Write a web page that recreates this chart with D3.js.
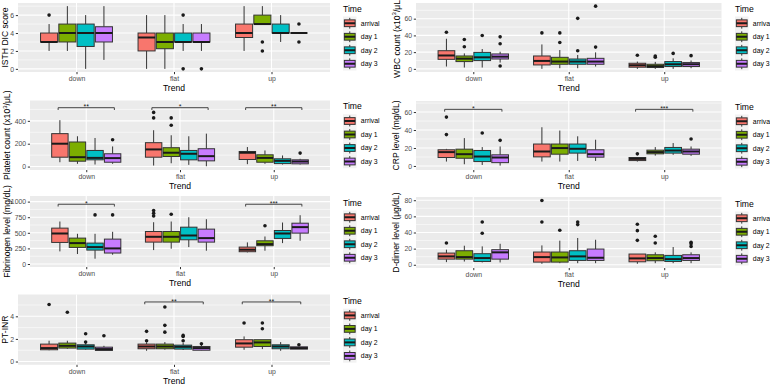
<!DOCTYPE html>
<html>
<head>
<meta charset="utf-8">
<script src="https://cdn.jsdelivr.net/npm/d3@7"></script>
<style>
  body { margin: 0; background: #fff; }
  svg { opacity: 0.999; }
  text { font-family: "Liberation Sans", Arial, sans-serif; }
</style>
</head>
<body>
<div id="grafico"></div>
<script>
// categorias
var trends = ["down", "flat", "up"];
var times = ["arrival", "day 1", "day 2", "day 3"];
var timeColors = ["#F8766D", "#7CAE00", "#00BFC4", "#C77CFF"];

// cajas: [trend, time, bigote inf, q1, mediana, q3, bigote sup]
var isthBoxes = [
  ["down", "arrival", 2, 3, 3, 4, 5], ["down", "day 1", 2, 3, 4, 5, 7],
  ["down", "day 2", 0, 2.5, 4, 5, 6], ["down", "day 3", 1, 3, 4, 4.7, 7],
  ["flat", "arrival", 0, 2, 3.5, 4, 6], ["flat", "day 1", 0, 2.25, 3, 4, 6],
  ["flat", "day 2", 2, 3, 3, 4, 5], ["flat", "day 3", 2, 3, 3, 4, 5],
  ["up", "arrival", 2, 3.5, 4, 5, 7], ["up", "day 1", 5, 5, 5, 6, 7],
  ["up", "day 2", 3, 4, 4, 5, 6], ["up", "day 3", 4, 4, 4, 4, 4]
];
var isthOutliers = [
  ["down", "arrival", 6], ["flat", "day 2", 6], ["flat", "day 2", 0], ["flat", "day 3", 0],
  ["up", "day 1", 3], ["up", "day 1", 2], ["up", "day 3", 5], ["up", "day 3", 3]
];
var isthTicks = [0, 2, 4, 6];
var isthSignif = [];

var wbcBoxes = [
  ["down", "arrival", 2.8, 11.4, 16, 21.7, 36], ["down", "day 1", 1.6, 8.7, 12.2, 15.4, 18.5],
  ["down", "day 2", 1.6, 9.9, 13.8, 19.7, 23.7], ["down", "day 3", 7.5, 11.8, 14.6, 17.8, 20.5],
  ["flat", "arrival", 0, 4.7, 9.5, 15.4, 29.2], ["flat", "day 1", 0.8, 5.5, 8.7, 13.8, 22.5],
  ["flat", "day 2", 0.8, 5.5, 8.7, 11.8, 16.6], ["flat", "day 3", 2.8, 5.5, 8.7, 12.6, 19.7],
  ["up", "arrival", 0, 2, 4.3, 6.7, 8.7], ["up", "day 1", 0, 1.6, 3.2, 5.5, 8.3],
  ["up", "day 2", 0, 2.8, 5.5, 8.7, 12.6], ["up", "day 3", 0.8, 2.8, 5.5, 7.5, 10]
];
var wbcOutliers = [
  ["down", "arrival", 43.8], ["down", "day 1", 35.1], ["down", "day 1", 26.4],
  ["down", "day 2", 39.9], ["down", "day 3", 38.3], ["down", "day 3", 30], ["down", "day 3", 3.5],
  ["flat", "arrival", 43], ["flat", "day 1", 43], ["flat", "day 1", 31.6],
  ["flat", "day 2", 21.7], ["flat", "day 2", 60.4], ["flat", "day 3", 26], ["flat", "day 3", 75],
  ["up", "arrival", 16.2], ["up", "day 1", 15.4], ["up", "day 1", 13.8],
  ["up", "day 2", 18.5], ["up", "day 3", 15.8]
];
var wbcTicks = [0, 20, 40, 60];
var wbcSignif = [];

var pltBoxes = [
  ["down", "arrival", 38, 82, 200, 288, 406], ["down", "day 1", 24, 47, 82, 215, 265],
  ["down", "day 2", 18, 59, 76, 141, 250], ["down", "day 3", 24, 38, 74, 112, 176],
  ["flat", "arrival", 9, 82, 150, 209, 318], ["flat", "day 1", 29, 88, 121, 165, 274],
  ["flat", "day 2", 15, 59, 112, 141, 265], ["flat", "day 3", 3, 50, 91, 156, 288],
  ["up", "arrival", 21, 62, 121, 132, 171], ["up", "day 1", 24, 38, 76, 103, 141],
  ["up", "day 2", 18, 26, 50, 68, 97], ["up", "day 3", 18, 24, 44, 59, 68]
];
var pltOutliers = [
  ["down", "day 3", 235], ["flat", "arrival", 474], ["flat", "arrival", 426],
  ["flat", "day 1", 426], ["flat", "day 1", 362], ["up", "day 3", 118]
];
var pltTicks = [0, 200, 400];
var pltSignif = [["down", 515, "**"], ["flat", 515, "*"], ["up", 515, "**"]];

var crpBoxes = [
  ["down", "arrival", 4.9, 9.4, 15.4, 18, 19], ["down", "day 1", 1.9, 8.6, 13.1, 18.7, 31],
  ["down", "day 2", 1.1, 4.9, 10.5, 17.2, 21], ["down", "day 3", 0.4, 3.7, 9.4, 12.4, 21.7],
  ["flat", "arrival", 4.9, 10.1, 16.1, 24.4, 43.1], ["flat", "day 1", 4.9, 13.1, 19.9, 24.4, 39.4],
  ["flat", "day 2", 5.6, 14.3, 19.1, 24.4, 33], ["flat", "day 3", 5.6, 9.8, 13.1, 18, 29.2],
  ["up", "arrival", 4.9, 6, 7.9, 9.4, 9.4], ["up", "day 1", 11.5, 13.5, 15.4, 17.6, 21],
  ["up", "day 2", 12.4, 14.3, 17.2, 20.6, 25.5], ["up", "day 3", 11.2, 13.1, 16.1, 18.7, 21.7]
];
var crpOutliers = [
  ["down", "arrival", 54.4], ["down", "arrival", 34.9], ["down", "day 2", 36.7],
  ["down", "day 3", 28.5], ["up", "arrival", 13.5], ["up", "day 3", 30]
];
var crpTicks = [0, 20, 40, 60];
var crpSignif = [["down", 63, "*"], ["up", 63, "***"]];

var fibBoxes = [
  ["down", "arrival", 202, 346, 489, 575, 681], ["down", "day 1", 160, 266, 335, 415, 484],
  ["down", "day 2", 85, 223, 271, 335, 484], ["down", "day 3", 149, 176, 250, 399, 516],
  ["flat", "arrival", 223, 351, 436, 521, 670], ["flat", "day 1", 245, 351, 436, 521, 681],
  ["flat", "day 2", 271, 388, 457, 590, 750], ["flat", "day 3", 213, 351, 415, 559, 718],
  ["up", "arrival", 186, 197, 229, 271, 346], ["up", "day 1", 213, 293, 319, 372, 441],
  ["up", "day 2", 335, 410, 489, 537, 665], ["up", "day 3", 372, 495, 591, 654, 782]
];
var fibOutliers = [
  ["down", "day 2", 787], ["down", "day 3", 787],
  ["flat", "arrival", 856], ["flat", "arrival", 814], ["flat", "arrival", 771],
  ["flat", "day 1", 798], ["up", "day 1", 612]
];
var fibTicks = [0, 250, 500, 750, 1000];
var fibSignif = [["down", 958, "*"], ["up", 958, "***"]];

var ddBoxes = [
  ["down", "arrival", 3.3, 7, 10.4, 14.5, 18.7], ["down", "day 1", 4, 7, 9.5, 17.4, 23.6],
  ["down", "day 2", 2.9, 4.1, 8.3, 13.7, 22.8], ["down", "day 3", 2.9, 7, 15.4, 18.7, 26],
  ["flat", "arrival", 1.2, 3.3, 9.5, 15.8, 24], ["flat", "day 1", 2, 3.3, 9.1, 15.8, 29.9],
  ["flat", "day 2", 2, 5.4, 10.4, 17.4, 33.2], ["flat", "day 3", 2, 5.4, 8.7, 19.5, 31],
  ["up", "arrival", 1.2, 3.7, 7.9, 13.3, 13.3], ["up", "day 1", 2, 5, 8.3, 12.4, 15.4],
  ["up", "day 2", 2, 4.1, 7, 11.6, 22], ["up", "day 3", 2, 5.4, 8.3, 12.4, 15.4]
];
var ddOutliers = [
  ["down", "arrival", 27], ["down", "day 2", 53], ["down", "day 2", 39],
  ["flat", "arrival", 79.7], ["flat", "arrival", 53.1], ["flat", "day 1", 42.7],
  ["flat", "day 2", 53.1], ["flat", "day 2", 49.8],
  ["up", "arrival", 50.2], ["up", "arrival", 42.3], ["up", "arrival", 30.3],
  ["up", "day 1", 35.3], ["up", "day 1", 27],
  ["up", "day 3", 27.8], ["up", "day 3", 26.1], ["up", "day 3", 22.8]
];
var ddTicks = [0, 20, 40, 60, 80];
var ddSignif = [];

var inrBoxes = [
  ["down", "arrival", 1.0, 1.04, 1.19, 1.54, 1.84], ["down", "day 1", 1.13, 1.19, 1.39, 1.63, 1.84],
  ["down", "day 2", 1.05, 1.1, 1.33, 1.48, 1.6], ["down", "day 3", 0.98, 0.98, 1.1, 1.27, 1.39],
  ["flat", "arrival", 0.95, 1.13, 1.33, 1.54, 1.7], ["flat", "day 1", 1.05, 1.13, 1.33, 1.54, 1.72],
  ["flat", "day 2", 1.02, 1.1, 1.3, 1.45, 1.66], ["flat", "day 3", 0.98, 1.0, 1.19, 1.33, 1.48],
  ["up", "arrival", 1.04, 1.27, 1.6, 1.93, 2.22], ["up", "day 1", 1.1, 1.33, 1.69, 1.93, 1.93],
  ["up", "day 2", 0.95, 1.13, 1.33, 1.48, 1.72], ["up", "day 3", 1.1, 1.1, 1.19, 1.3, 1.3]
];
var inrOutliers = [
  ["down", "arrival", 5.04], ["down", "day 1", 4.36], ["down", "day 2", 2.46], ["down", "day 2", 1.72],
  ["down", "day 3", 2.28], ["flat", "arrival", 2.67], ["flat", "arrival", 1.84],
  ["flat", "day 1", 4.83], ["flat", "day 1", 3.2], ["flat", "day 1", 2.6],
  ["flat", "day 2", 2.31], ["flat", "day 2", 2.22], ["flat", "day 2", 1.84], ["flat", "day 3", 1.57],
  ["up", "arrival", 3.41], ["up", "day 1", 3.41], ["up", "day 1", 2.9], ["up", "day 3", 1.48]
];
var inrTicks = [0, 2, 4];
var inrSignif = [["flat", 5.27, "**"], ["up", 5.27, "**"]];

// Configuracion de cada panel (datos + posicion en la pagina)
var panels = [
  {title: ["ISTH DIC score"], boxes: isthBoxes, outliers: isthOutliers, ticks: isthTicks, signif: isthSignif,
   domain: [-0.35, 7.35], x0: 18, x1: 330, y0: 3, y1: 72, titleX: 8, legendX: 343},
  {title: ["WBC count (x10", "3", "/\u03BCL)"], boxes: wbcBoxes, outliers: wbcOutliers, ticks: wbcTicks, signif: wbcSignif,
   domain: [-3.75, 78.75], x0: 416, x1: 721.5, y0: 3, y1: 72, titleX: 399.5, legendX: 735},
  {title: ["Platelet count (x10", "3", "/\u03BCL)"], boxes: pltBoxes, outliers: pltOutliers, ticks: pltTicks, signif: pltSignif,
   domain: [-30, 578], x0: 30, x1: 330, y0: 100.5, y1: 170, titleX: 10, legendX: 343},
  {title: ["CRP level (mg/dL)"], boxes: crpBoxes, outliers: crpOutliers, ticks: crpTicks, signif: crpSignif,
   domain: [-4.5, 72.3], x0: 416, x1: 721.5, y0: 101, y1: 170, titleX: 398.5, legendX: 735},
  {title: ["Fibrinogen level (mg/dL)"], boxes: fibBoxes, outliers: fibOutliers, ticks: fibTicks, signif: fibSignif,
   domain: [-48, 1090], x0: 30, x1: 330, y0: 196, y1: 267, titleX: 10, legendX: 343},
  {title: ["D-dimer level (\u03BCg/dL)"], boxes: ddBoxes, outliers: ddOutliers, ticks: ddTicks, signif: ddSignif,
   domain: [-4, 84], x0: 416, x1: 721.5, y0: 197, y1: 268, titleX: 399, legendX: 735},
  {title: ["PT-INR"], boxes: inrBoxes, outliers: inrOutliers, ticks: inrTicks, signif: inrSignif,
   domain: [-0.29, 5.93], x0: 18, x1: 330, y0: 294.5, y1: 364.8, titleX: 8, legendX: 343}
];

var ancho = 770, alto = 384;
var svg = d3.select("#grafico").append("svg")
  .attr("width", ancho)
  .attr("height", alto);

var color = d3.scaleOrdinal().domain(times).range(timeColors);

var slot = 0.1875;   // ancho de cada caja dentro del grupo (en unidades de categoria)
var boxW = 0.175;

panels.forEach(drawPanel);

function drawPanel(p) {
  var g = svg.append("g");

  var x = d3.scalePoint().domain(trends).range([p.x0, p.x1]).padding(0.6);
  var y = d3.scaleLinear().domain(p.domain).range([p.y1, p.y0]);
  var step = x.step();
  var cx = function(t, tm) { return x(t) + (times.indexOf(tm) - 1.5) * slot * step; };

  // fondo
  g.append("rect")
    .attr("x", p.x0).attr("y", p.y0)
    .attr("width", p.x1 - p.x0).attr("height", p.y1 - p.y0)
    .attr("fill", "#EBEBEB");

  // grilla menor
  var st = p.ticks[1] - p.ticks[0];
  var minors = [];
  for (var v = p.ticks[0] - st / 2; v <= p.ticks[p.ticks.length - 1] + st; v += st) {
    if (v > p.domain[0] && v < p.domain[1]) minors.push(v);
  }
  g.selectAll(".minor").data(minors).enter().append("line")
    .attr("x1", p.x0).attr("x2", p.x1)
    .attr("y1", function(d) { return y(d); }).attr("y2", function(d) { return y(d); })
    .attr("stroke", "#fff").attr("stroke-width", 0.55);

  // grilla mayor
  g.selectAll(".major").data(p.ticks).enter().append("line")
    .attr("x1", p.x0).attr("x2", p.x1)
    .attr("y1", function(d) { return y(d); }).attr("y2", function(d) { return y(d); })
    .attr("stroke", "#fff").attr("stroke-width", 1.1);
  g.selectAll(".vgrid").data(trends).enter().append("line")
    .attr("x1", function(d) { return x(d); }).attr("x2", function(d) { return x(d); })
    .attr("y1", p.y0).attr("y2", p.y1)
    .attr("stroke", "#fff").attr("stroke-width", 1.1);

  // ejes
  var ejeY = g.append("g")
    .attr("transform", "translate(" + p.x0 + ",0)")
    .call(d3.axisLeft(y).tickValues(p.ticks).tickFormat(function(d) { return d; })
      .tickSize(2.2).tickPadding(1.6));
  var ejeX = g.append("g")
    .attr("transform", "translate(0," + p.y1 + ")")
    .call(d3.axisBottom(x).tickSize(2.2).tickPadding(2.2));
  [ejeY, ejeX].forEach(function(e) {
    e.select(".domain").remove();
    e.selectAll("line").attr("stroke", "#333").attr("stroke-width", 1);
    e.selectAll("text")
      .style("fill", "#4D4D4D")
      .style("font-size", "6.9px")
      .style("font-family", "'Liberation Sans', Arial, sans-serif");
  });

  // bigotes
  g.selectAll(".whisker").data(p.boxes).enter().append("path")
    .attr("d", function(d) {
      var c = cx(d[0], d[1]);
      return "M" + c + "," + y(d[6]) + "V" + y(d[5]) + "M" + c + "," + y(d[3]) + "V" + y(d[2]);
    })
    .attr("stroke", "#333").attr("stroke-width", 1).attr("fill", "none");

  // cajas
  g.selectAll(".box").data(p.boxes).enter().append("rect")
    .attr("x", function(d) { return cx(d[0], d[1]) - boxW * step / 2; })
    .attr("y", function(d) { return y(d[5]); })
    .attr("width", boxW * step)
    .attr("height", function(d) { return Math.max(0, y(d[3]) - y(d[5])); })
    .attr("fill", function(d) { return color(d[1]); })
    .attr("stroke", "#333").attr("stroke-width", 1);

  // medianas
  g.selectAll(".median").data(p.boxes).enter().append("line")
    .attr("x1", function(d) { return cx(d[0], d[1]) - boxW * step / 2; })
    .attr("x2", function(d) { return cx(d[0], d[1]) + boxW * step / 2; })
    .attr("y1", function(d) { return y(d[4]); })
    .attr("y2", function(d) { return y(d[4]); })
    .attr("stroke", "#1a1a1a").attr("stroke-width", 2);

  // atipicos
  g.selectAll(".out").data(p.outliers).enter().append("circle")
    .attr("cx", function(d) { return cx(d[0], d[1]); })
    .attr("cy", function(d) { return y(d[2]); })
    .attr("r", 1.8)
    .attr("fill", "#1a1a1a");

  // significancia
  p.signif.forEach(function(s) {
    var xa = x(s[0]) - 0.3 * step, xb = x(s[0]) + 0.3 * step, yy = y(s[1]);
    g.append("path")
      .attr("d", "M" + xa + "," + (yy + 2.3) + "V" + yy + "H" + xb + "V" + (yy + 2.3))
      .attr("stroke", "#333").attr("stroke-width", 0.9).attr("fill", "none");
    g.append("text")
      .text(s[2])
      .attr("x", x(s[0])).attr("y", yy + 1.6)
      .attr("text-anchor", "middle")
      .attr("font-size", "7px")
      .attr("fill", "#1a1a1a");
  });

  // titulo eje x
  g.append("text")
    .text("Trend")
    .attr("x", (p.x0 + p.x1) / 2).attr("y", p.y1 + 18.7)
    .attr("text-anchor", "middle")
    .attr("font-size", "8.6px").attr("fill", "#000");

  // titulo eje y
  var ty = g.append("text")
    .attr("transform", "translate(" + p.titleX + "," + (p.y0 + p.y1) / 2 + ") rotate(-90)")
    .attr("text-anchor", "middle")
    .attr("font-size", "8.6px").attr("fill", "#000");
  ty.append("tspan").text(p.title[0]);
  if (p.title.length > 1) {
    ty.append("tspan").text(p.title[1]).attr("font-size", "6px").attr("dy", -3.2);
    ty.append("tspan").text(p.title[2]).attr("dy", 3.2);
  }

  drawLegend(p.legendX, (p.y0 + p.y1) / 2);
}

// leyenda "Time"
function drawLegend(lx, cy) {
  var k = 13.5;
  var lg = svg.append("g").attr("class", "leyenda");
  lg.append("text")
    .text("Time")
    .attr("x", lx).attr("y", cy - 26)
    .attr("font-size", "8.6px").attr("fill", "#000");
  var items = lg.selectAll(".item").data(times).enter().append("g")
    .attr("transform", function(d, i) { return "translate(" + lx + "," + (cy - 21 + i * k) + ")"; });
  items.append("rect")
    .attr("width", k).attr("height", k).attr("fill", "#F2F2F2");
  items.append("path")
    .attr("d", "M" + k / 2 + "," + (k * 0.1) + "V" + (k * 0.25) + "M" + k / 2 + "," + (k * 0.75) + "V" + (k * 0.9))
    .attr("stroke", "#333").attr("stroke-width", 1);
  items.append("rect")
    .attr("x", k * 0.1).attr("y", k * 0.25)
    .attr("width", k * 0.8).attr("height", k * 0.5)
    .attr("fill", function(d) { return color(d); })
    .attr("stroke", "#333").attr("stroke-width", 1);
  items.append("line")
    .attr("x1", k * 0.1).attr("x2", k * 0.9)
    .attr("y1", k / 2).attr("y2", k / 2)
    .attr("stroke", "#1a1a1a").attr("stroke-width", 2);
  items.append("text")
    .text(function(d) { return d; })
    .attr("x", k + 4.3).attr("y", k / 2 + 2.4)
    .attr("font-size", "6.9px").attr("fill", "#000");
}
</script>
</body>
</html>
